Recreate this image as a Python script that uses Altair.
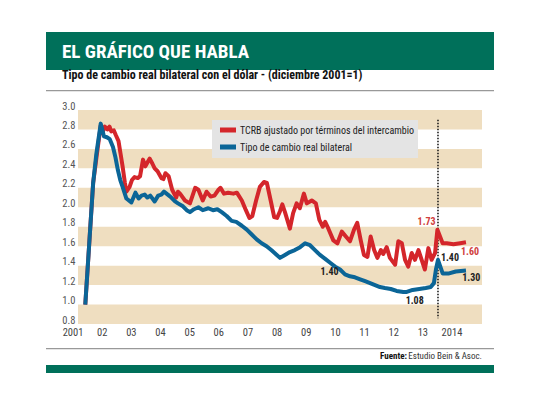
import altair as alt
import pandas as pd

# ---------------- data ----------------
SERIES = ["TCRB ajustado por términos del intercambio", "Tipo de cambio real bilateral"]

red_years = [2001.92, 2002.05, 2002.19, 2002.32, 2002.45, 2002.50, 2002.59, 2002.68, 2002.75, 2002.81,
             2002.90, 2002.97, 2003.06, 2003.13, 2003.20, 2003.28, 2003.33, 2003.44, 2003.52, 2003.61,
             2003.72, 2003.80, 2003.90, 2003.98, 2004.07, 2004.13, 2004.22, 2004.30, 2004.40, 2004.53,
             2004.60, 2004.67, 2004.78, 2004.90, 2005.04, 2005.10, 2005.17, 2005.34, 2005.51, 2005.60,
             2005.69, 2005.80, 2005.95, 2006.08, 2006.22, 2006.35, 2006.49, 2006.56, 2006.68, 2006.82,
             2007.00, 2007.12, 2007.29, 2007.43, 2007.55, 2007.65, 2007.78, 2007.91, 2008.05, 2008.15,
             2008.28, 2008.40, 2008.50, 2008.60, 2008.68, 2008.77, 2008.94, 2009.05, 2009.17, 2009.28,
             2009.42, 2009.52, 2009.69, 2009.83, 2009.95, 2010.07, 2010.15, 2010.26, 2010.43, 2010.57,
             2010.72, 2010.86, 2011.00, 2011.14, 2011.25, 2011.37, 2011.48, 2011.60, 2011.71, 2011.83,
             2011.94, 2012.06, 2012.14, 2012.26, 2012.37, 2012.55, 2012.66, 2012.78, 2012.89, 2013.00,
             2013.12, 2013.23, 2013.35, 2013.46, 2013.57, 2013.69, 2013.80, 2013.92, 2014.00, 2014.09,
             2014.18, 2014.32, 2014.55, 2014.78, 2014.98]
red_vals = [1.00, 1.60, 2.25, 2.55, 2.84, 2.76, 2.83, 2.80, 2.83, 2.78,
            2.79, 2.74, 2.68, 2.55, 2.42, 2.25, 2.16, 2.21, 2.28, 2.31,
            2.30, 2.32, 2.49, 2.42, 2.47, 2.50, 2.45, 2.40, 2.37, 2.30,
            2.29, 2.35, 2.32, 2.18, 2.10, 2.16, 2.14, 2.07, 2.04, 2.12,
            2.20, 2.18, 2.07, 2.16, 2.11, 2.12, 2.18, 2.20, 2.14, 2.15,
            2.14, 2.15, 2.07, 1.97, 1.89, 1.91, 2.07, 2.21, 2.26, 2.25,
            2.07, 1.90, 1.89, 1.96, 2.03, 1.95, 1.78, 1.94, 2.04, 1.99,
            2.14, 2.04, 2.07, 2.04, 1.87, 1.80, 1.85, 1.78, 1.66, 1.63,
            1.75, 1.70, 1.65, 1.77, 1.84, 1.66, 1.51, 1.49, 1.70, 1.56,
            1.48, 1.56, 1.52, 1.59, 1.48, 1.41, 1.65, 1.63, 1.46, 1.39,
            1.53, 1.46, 1.56, 1.46, 1.36, 1.58, 1.46, 1.53, 1.77, 1.70,
            1.63, 1.63, 1.62, 1.63, 1.64]

blue_years = [2001.92, 2002.05, 2002.19, 2002.30, 2002.45, 2002.56, 2002.66, 2002.76, 2002.87, 2002.95,
              2003.04, 2003.12, 2003.20, 2003.33, 2003.50, 2003.64, 2003.75, 2003.85, 2003.96, 2004.05,
              2004.15, 2004.30, 2004.42, 2004.53, 2004.62, 2004.75, 2004.87, 2005.00, 2005.10, 2005.27,
              2005.40, 2005.51, 2005.65, 2005.80, 2005.95, 2006.14, 2006.30, 2006.45, 2006.60, 2006.77,
              2006.94, 2007.10, 2007.29, 2007.46, 2007.63, 2007.80, 2007.97, 2008.14, 2008.30, 2008.49,
              2008.60, 2008.77, 2008.94, 2009.11, 2009.29, 2009.46, 2009.63, 2009.80, 2009.97, 2010.15,
              2010.32, 2010.49, 2010.66, 2010.83, 2011.00, 2011.17, 2011.35, 2011.52, 2011.69, 2011.86,
              2012.03, 2012.20, 2012.40, 2012.60, 2012.83, 2012.95, 2013.15, 2013.38, 2013.60, 2013.77,
              2013.88, 2013.95, 2014.02, 2014.10, 2014.18, 2014.40, 2014.63, 2014.98]
blue_vals = [1.00, 1.60, 2.25, 2.55, 2.86, 2.73, 2.72, 2.70, 2.62, 2.52,
             2.38, 2.28, 2.21, 2.09, 2.05, 2.15, 2.09, 2.12, 2.13, 2.10,
             2.12, 2.06, 2.12, 2.13, 2.16, 2.13, 2.10, 2.06, 2.04, 2.01,
             1.97, 1.95, 1.98, 2.00, 1.97, 1.99, 1.97, 1.98, 1.95, 1.91,
             1.86, 1.85, 1.81, 1.77, 1.72, 1.67, 1.63, 1.60, 1.56, 1.51,
             1.48, 1.51, 1.54, 1.56, 1.59, 1.63, 1.61, 1.56, 1.51, 1.47,
             1.43, 1.39, 1.36, 1.31, 1.29, 1.28, 1.26, 1.24, 1.22, 1.20,
             1.18, 1.17, 1.16, 1.14, 1.13, 1.13, 1.15, 1.16, 1.17, 1.18,
             1.22, 1.36, 1.46, 1.39, 1.32, 1.32, 1.34, 1.35]

y_ticks = [0.8, 1.0, 1.2, 1.4, 1.6, 1.8, 2.0, 2.2, 2.4, 2.6, 2.8, 3.0]
x_tick_pos = [2001.5 + i for i in range(14)]
x_tick_labels = ["2001", "02", "03", "04", "05", "06", "07", "08", "09", "10", "11", "12", "13", "2014"]

band_lows = [0.8, 1.2, 1.6, 2.0, 2.4, 2.8]
band_highs = [1.0, 1.4, 1.8, 2.2, 2.6, 3.0]

red_ann_text = ["1.73", "1.60"]
red_ann_year = [2013.63, 2015.12]
red_ann_val = [1.85, 1.54]

blk_ann_text = ["1.40", "1.30", "1.08", "1.40"]
blk_ann_year = [2014.43, 2015.16, 2013.22, 2010.30]
blk_ann_val = [1.476, 1.27, 1.04, 1.33]

marker_year = [2014.02]
marker_top = [2.90]
marker_bottom = [0.86]

TITLE = "EL GRÁFICO QUE HABLA"
SUBTITLE = "Tipo de cambio real bilateral con el dólar - (diciembre 2001=1)"
SOURCE_BOLD = "Fuente:"
SOURCE = "Estudio Bein & Asoc."

XMIN, XMAX = 2001.67, 2015.53
YMIN, YMAX = 0.8, 3.0

# ---------------- styling ----------------
W, H = 404, 214
FONT = "Liberation Sans Narrow, Arial Narrow, Roboto Condensed, sans-serif"
RED = "#d4262b"
BLUE = "#0b6597"
TAN = "#efdec0"
GREEN = "#00705a"

xs = alt.Scale(domain=[XMIN, XMAX], nice=False, zero=False)
ys = alt.Scale(domain=[YMIN, YMAX], nice=False, zero=False)
YAX = alt.Axis(values=y_ticks, format=".1f", domain=False, ticks=False, grid=False,
               labelColor="#555", labelFontSize=10.5, labelFont=FONT, labelPadding=3,
               labelOffset=-4, title=None)

df_lines = pd.concat([
    pd.DataFrame({"year": red_years, "val": red_vals, "series": SERIES[0]}),
    pd.DataFrame({"year": blue_years, "val": blue_vals, "series": SERIES[1]}),
], ignore_index=True)
df_bands = pd.DataFrame({"lo": band_lows, "hi": band_highs, "x0": XMIN, "x1": XMAX})
df_xt = pd.DataFrame({"pos": x_tick_pos, "lab": x_tick_labels})
df_ra = pd.DataFrame({"t": red_ann_text, "year": red_ann_year, "val": red_ann_val})
df_ba = pd.DataFrame({"t": blk_ann_text, "year": blk_ann_year, "val": blk_ann_val})
df_mk = pd.DataFrame({"year": marker_year, "top": marker_top, "bot": marker_bottom})
one = pd.DataFrame({"k": [0]})

bands = alt.Chart(df_bands).mark_rect(color=TAN).encode(
    x=alt.X("x0:Q", scale=xs, axis=None),
    x2="x1",
    y=alt.Y("lo:Q", scale=ys, axis=YAX),
    y2="hi",
)

lines = alt.Chart(df_lines).mark_line(strokeWidth=4, strokeJoin="round").encode(
    x=alt.X("year:Q", scale=xs, axis=None),
    y=alt.Y("val:Q", scale=ys, axis=YAX),
    color=alt.Color("series:N", scale=alt.Scale(domain=SERIES, range=[RED, BLUE]), legend=None),
)

marker = alt.Chart(df_mk).mark_rule(color="#111", strokeWidth=1.5, strokeDash=[1.5, 1.5]).encode(
    x=alt.X("year:Q", scale=xs, axis=None),
    y=alt.Y("top:Q", scale=ys, axis=YAX),
    y2="bot",
)

xlabels = alt.Chart(df_xt).mark_text(font=FONT, fontSize=10.5, color="#444", baseline="middle").encode(
    x=alt.X("pos:Q", scale=xs, axis=None), y=alt.value(H + 9), text="lab:N")

red_ann = alt.Chart(df_ra).mark_text(font=FONT, fontSize=10, fontWeight="bold", color="#d0403c").encode(
    x=alt.X("year:Q", scale=xs, axis=None), y=alt.Y("val:Q", scale=ys, axis=YAX), text="t:N")
blk_ann = alt.Chart(df_ba).mark_text(font=FONT, fontSize=10, fontWeight="bold", color="#222").encode(
    x=alt.X("year:Q", scale=xs, axis=None), y=alt.Y("val:Q", scale=ys, axis=YAX), text="t:N")

# header / footer / legend furniture (fixed page layout)
def bar(x0, x1, y0, y1, col):
    return alt.Chart(one).mark_rect(color=col).encode(
        x=alt.value(x0), x2=alt.value(x1), y=alt.value(y0), y2=alt.value(y1))

def label(txt, x, y, size, weight, col, align, baseline="alphabetic"):
    return alt.Chart(pd.DataFrame({"t": [txt]})).mark_text(
        font=FONT, fontSize=size, fontWeight=weight, color=col, align=align, baseline=baseline
    ).encode(x=alt.value(x), y=alt.value(y), text="t:N")

header = bar(-32, 416, -78, -40, GREEN)
title = label(TITLE, -16, -52, 19, "bold", "white", "left")
subtitle = label(SUBTITLE, -16, -31, 12, "bold", "#111", "left")
topline = bar(-32, 416, -20, -18.8, "#999")
botline = bar(-32, 416, 238, 239.2, "#999")
src_b = label(SOURCE_BOLD, 329, 249, 9, "bold", "#111", "right")
src = label(SOURCE, 404, 249, 9, "normal", "#333", "right")
footer = bar(-32, 416, 255, 263, GREEN)

leg_box = bar(134, 340, 10, 48, "#e4e4e4")
leg_red = bar(142, 158, 17.5, 22.5, RED)
leg_blue = bar(142, 158, 34.5, 39.5, BLUE)
leg_t1 = label(SERIES[0], 162, 20.5, 10, "normal", "#222", "left", "middle")
leg_t2 = label(SERIES[1], 162, 37.5, 10, "normal", "#222", "left", "middle")

chart = alt.layer(
    bands, leg_box, leg_red, leg_blue, leg_t1, leg_t2,
    marker, lines, red_ann, blk_ann, xlabels,
    header, title, subtitle, topline, botline, src_b, src, footer,
).properties(
    width=W, height=H,
    autosize=alt.AutoSizeParams(type="none"),
    padding={"left": 70, "top": 102, "right": 40, "bottom": 60},
    background="white",
).configure_view(stroke=None)

chart.save("out.html", embed_options={"renderer": "svg", "actions": False})
